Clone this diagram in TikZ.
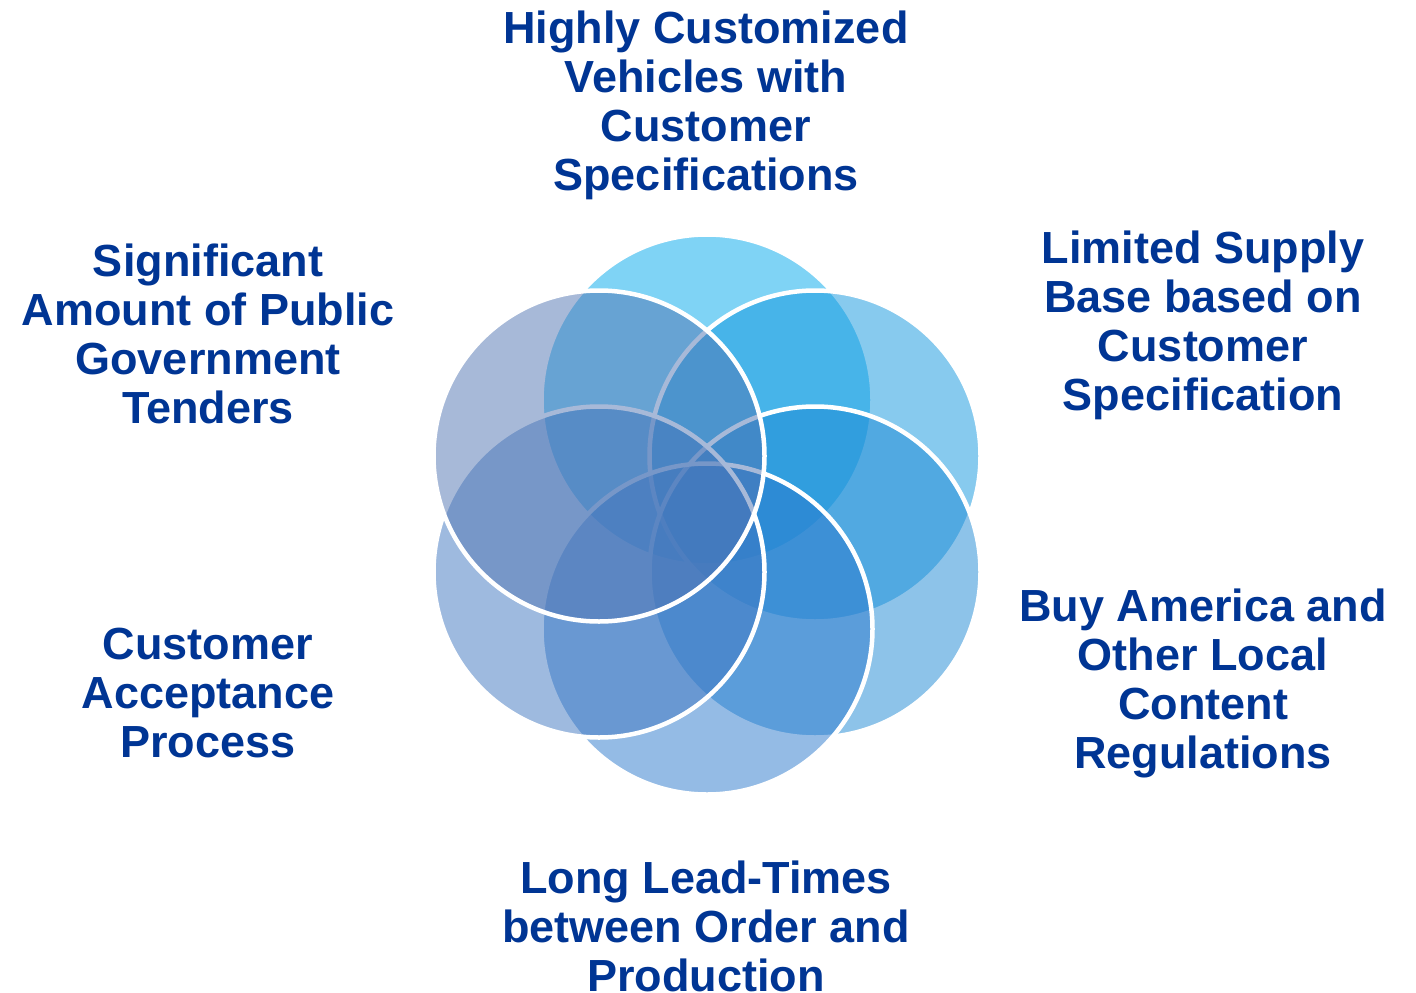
\documentclass[tikz,border=0pt]{standalone}
\usepackage{fontspec}
\setmainfont{Liberation Sans}
\definecolor{txtblue}{RGB}{0,53,148}
\definecolor{cT}{RGB}{1,169,237}
\definecolor{cUR}{RGB}{17,151,223}
\definecolor{cLR}{RGB}{29,137,213}
\definecolor{cB}{RGB}{43,121,205}
\definecolor{cLL}{RGB}{63,119,193}
\definecolor{cUL}{RGB}{81,117,179}
\tikzset{
  petal/.style={circle, minimum size=331pt, inner sep=0pt, draw=white, line width=4.5pt, fill opacity=0.5},
  label/.style={anchor=base, align=center, inner sep=0pt, text=txtblue,
    font=\fontsize{45}{49}\selectfont\bfseries}
}
\begin{document}
\begin{tikzpicture}[x=1pt,y=-1pt]
\useasboundingbox (0,0) rectangle (1416,993);
\fill[white] (0,0) rectangle (1416,993);
% circles, drawn in stacking order
\node[petal, fill=cT]  (T)  at (707,400) {};
\node[petal, fill=cUR] (UR) at (815,456) {};
\node[petal, fill=cLR] (LR) at (815,572) {};
\node[petal, fill=cB]  (B)  at (707,629) {};
\node[petal, fill=cLL] (LL) at (599,572) {};
\node[petal, fill=cUL] (UL) at (599,456) {};
% labels (anchor = baseline of the last line)
\node[label] (tT)  at (706,190)  {Highly Customized\\Vehicles with\\Customer\\Specifications};
\node[label] (tUR) at (1203,410) {Limited Supply\\Base based on\\Customer\\Specification};
\node[label] (tLR) at (1203,768) {Buy America and\\Other Local\\Content\\Regulations};
\node[label] (tB)  at (706,991) {Long Lead-Times\\between Order and\\Production};
\node[label] (tLL) at (208,757) {Customer\\Acceptance\\Process};
\node[label] (tUL) at (208,423) {Significant\\Amount of Public\\Government\\Tenders};
\end{tikzpicture}
\end{document}
